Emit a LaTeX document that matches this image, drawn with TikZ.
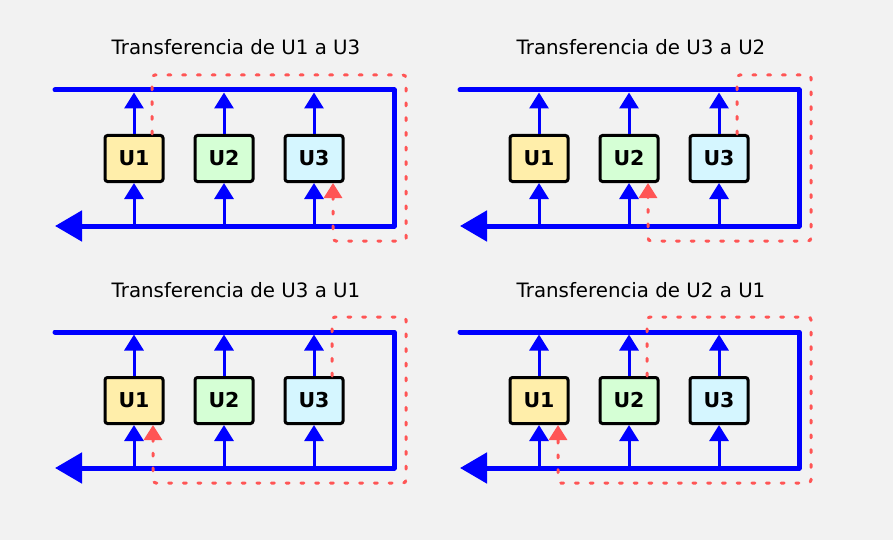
\documentclass[tikz,border=0pt]{standalone}
\usepackage{fontspec}
\setmainfont{DejaVu Sans}
\usetikzlibrary{arrows.meta,positioning}

\definecolor{bgcol}{HTML}{F2F2F2}
\definecolor{busblue}{HTML}{0000FF}
\definecolor{pathred}{HTML}{FF5555}
\definecolor{unitone}{HTML}{FFEEAA}
\definecolor{unittwo}{HTML}{D5FFD5}
\definecolor{unitthree}{HTML}{D5F6FF}

\begin{document}
\begin{tikzpicture}[x=1pt, y=-1pt, node distance=29pt,
  unit/.style={draw=black, line width=3pt, rounded corners=2.5pt,
    minimum width=58pt, minimum height=46pt, inner sep=0pt,
    font=\fontsize{20.5}{20.5}\selectfont\bfseries},
  caption/.style={anchor=base, font=\fontsize{19.8}{20}\selectfont},
  bus/.style={draw=busblue, line width=5pt, line cap=round, line join=round},
  feed/.style={draw=busblue, line width=3pt, -{Triangle[length=16pt,width=19pt]}},
  route/.style={draw=pathred, line width=3pt, line cap=round,
    dash pattern=on 3pt off 11.7pt, rounded corners=3pt,
    -{Triangle[length=15pt,width=18pt]}}]

  % Background
  \fill[bgcol] (0,0) rectangle (893,540);

  \foreach \px/\py/\src/\dst/\pn in {0/0/1/3/a, 405/0/3/2/b, 0/242/3/1/c, 405/242/2/1/d}{
    \begin{scope}[shift={(\px,\py)}]
      % Define nodes
      \node (\pn u1) [unit, fill=unitone] at (134,158.5) {U1};
      \node (\pn u2) [unit, fill=unittwo, right=of \pn u1] {U2};
      \node (\pn u3) [unit, fill=unitthree, right=of \pn u2] {U3};
      \node (\pn title) [caption] at (236,55) {Transferencia de U\src{} a U\dst};

      % Bus loop
      \coordinate (\pn tl) at (55,90);
      \coordinate (\pn tr) at (394,90);
      \coordinate (\pn br) at (394,226);
      \coordinate (\pn bl) at (55,226);
      \draw[bus, -{Triangle[length=27pt,width=30pt]}] (\pn tl) -- (\pn tr) -- (\pn br) -- (\pn bl);

      % Draw arrows
      \foreach \unum in {1,2,3}{
        \draw[feed] (\pn u\unum |- \pn bl) -- (\pn u\unum.south);
        \draw[feed, shorten >=2.5pt] (\pn u\unum.north) -- (\pn u\unum |- \pn tl);
      }

      % Transfer route
      \coordinate (\pn rt) at (406,75);
      \coordinate (\pn rb) at (406,241);
      \draw[route] ([xshift=18pt]\pn u\src.north) |- (\pn rt) -- (\pn rb) -| ([xshift=19pt]\pn u\dst.south);
    \end{scope}
  }
\end{tikzpicture}
\end{document}
